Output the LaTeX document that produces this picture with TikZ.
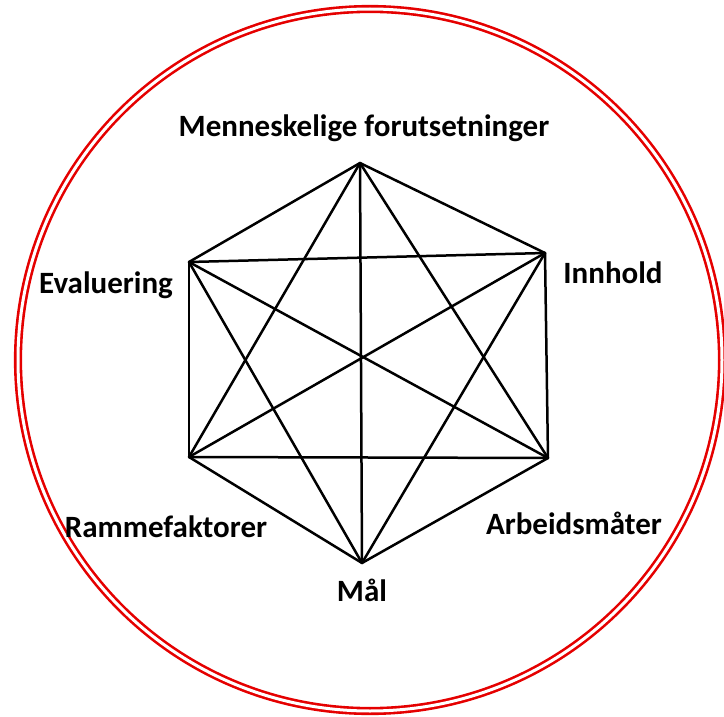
\documentclass[tikz,border=0pt]{standalone}
\usepackage{fontspec}
\setmainfont{Carlito}
\begin{document}
\begin{tikzpicture}[x=1pt,y=-1pt,
  edge/.style={line width=2.5pt, line cap=round, line join=round},
  lbl/.style={font=\fontsize{31}{36}\selectfont\bfseries, inner sep=0pt},
  vtx/.style={inner sep=0pt, minimum size=0pt}]
\useasboundingbox (0,0) rectangle (724,717);
\draw[red!90!black, line width=2.6pt, double=white, double distance=3pt] (370,360) ellipse [x radius=352, y radius=351];
\coordinate (T) at (360,163);
\coordinate (UR) at (545,253);
\coordinate (LR) at (548,458);
\coordinate (B) at (362,563);
\coordinate (LL) at (189,457);
\coordinate (UL) at (189,262);
\foreach \a/\b in {T/UR,UR/LR,LR/B,B/LL,LL/UL,UL/T,T/B,UL/LR,UR/LL,T/LL,T/LR,UL/UR,LL/LR,UL/B,UR/B}
  \draw[edge] (\a) -- (\b);
\node[lbl] (mf) at (364,128) {Menneskelige forutsetninger};
\node[lbl] (ev) at (106,285) {Evaluering};
\node[lbl] (in) at (613,273) {Innhold};
\node[lbl] (rf) at (166,527) {Rammefaktorer};
\node[lbl] (am) at (574,523) {Arbeidsmåter};
\node[lbl] (ml) at (362,590) {Mål};
\end{tikzpicture}
\end{document}
